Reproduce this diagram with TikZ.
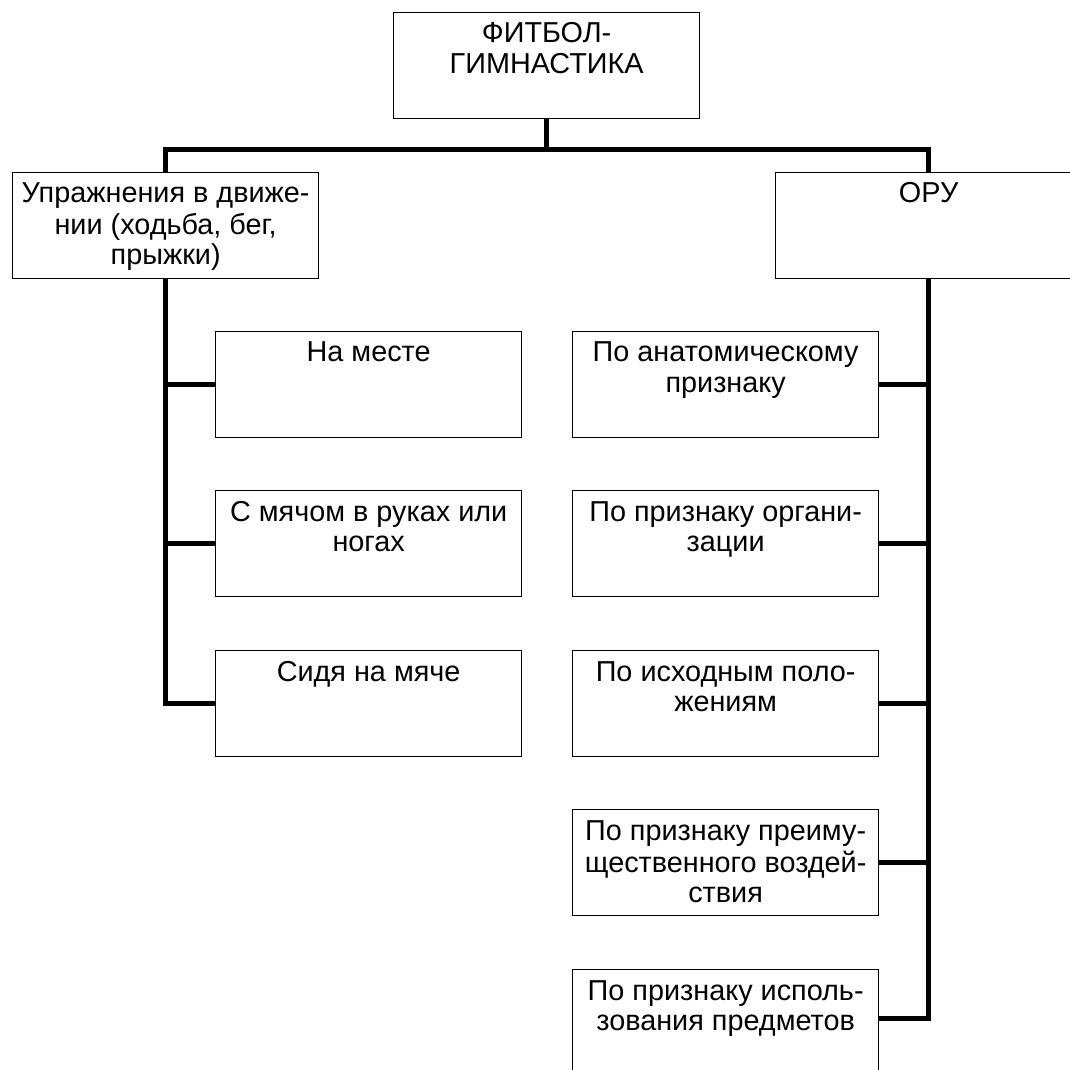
\documentclass[tikz,border=0pt]{standalone}
\usepackage{fontspec}
\setmainfont{Liberation Sans}
\usetikzlibrary{calc}
\newcommand{\boxw}{6.12cm}
\newcommand{\boxh}{2.12cm}

\begin{document}
\begin{tikzpicture}[x=0.02cm, y=-0.02cm,
    catbox/.style={rectangle, draw=black, line width=0.75pt, inner sep=0pt, anchor=north west,
        font=\fontsize{16.4}{17.1}\selectfont,
        execute at begin node={\begin{minipage}[t][\boxh][t]{\boxw}\centering\vspace*{5.3pt}\strut},
        execute at end node={\end{minipage}}},
    trunk/.style={line width=2.9pt}
]
    \clip (0,0) rectangle (1070,1070);
    \fill[white] (0,0) rectangle (1070,1070);

    \node[catbox] (root) at (393,12) {ФИТБОЛ-\\ГИМНАСТИКА};

    \node[catbox] (move) at (12,172) {Упражнения в движе-\\нии (ходьба, бег,\\прыжки)};
    \node[catbox] (oru) at (775,172) {ОРУ};

    \node[catbox] (l1) at (215,331) {На месте};
    \node[catbox] (l2) at (215,490) {С мячом в руках или\\ногах};
    \node[catbox] (l3) at (215,650) {Сидя на мяче};

    \node[catbox] (r1) at (572,331) {По анатомическому\\признаку};
    \node[catbox] (r2) at (572,490) {По признаку органи-\\зации};
    \node[catbox] (r3) at (572,650) {По исходным поло-\\жениям};
    \node[catbox] (r4) at (572,809) {По признаку преиму-\\щественного воздей-\\ствия};
    \node[catbox] (r5) at (572,969) {По признаку исполь-\\зования предметов};

    % top split
    \coordinate (hub) at ($(root.south)+(0,30)$);
    \draw[trunk] (root.south) -- (hub);
    \draw[trunk] (move.north) |- (hub) -| (oru.north);

    % left branch
    \draw[trunk] (move.south) |- (l3.west);
    \draw[trunk] (l1.west) -- (l1.west -| move.south);
    \draw[trunk] (l2.west) -- (l2.west -| move.south);

    % right branch
    \draw[trunk] (oru.south) |- ($(r5.east)+(0,-4)$);
    \draw[trunk] (r1.east) -- (r1.east -| oru.south);
    \draw[trunk] (r2.east) -- (r2.east -| oru.south);
    \draw[trunk] (r3.east) -- (r3.east -| oru.south);
    \draw[trunk] (r4.east) -- (r4.east -| oru.south);
\end{tikzpicture}
\end{document}
